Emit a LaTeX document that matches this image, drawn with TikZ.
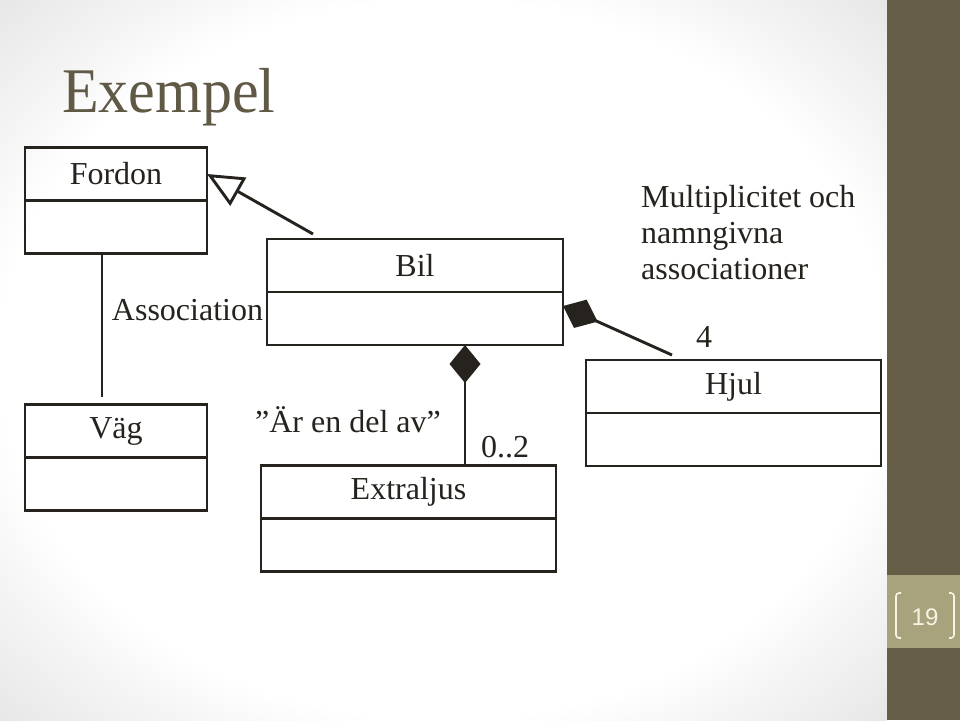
\documentclass[tikz,border=0pt]{standalone}
\usepackage{fontspec}
\setmainfont{Liberation Serif}
\setsansfont{Liberation Sans}
\usetikzlibrary{arrows.meta,positioning}
\definecolor{linje}{RGB}{38,35,30}
\definecolor{rubrik}{RGB}{95,89,70}
\definecolor{list}{RGB}{103,94,72}
\definecolor{listljus}{RGB}{168,163,125}
\definecolor{siffra}{RGB}{248,244,228}
\pgfdeclareradialshading{vinjett}{\pgfpoint{0bp}{0bp}}{color(0bp)=(white); color(25bp)=(white); color(29bp)=(black!4); color(36bp)=(black!10); color(50bp)=(black!10)}

\begin{document}
\begin{tikzpicture}[x=1pt, y=-1pt,
  every node/.style={font=\fontsize{32}{36}\selectfont, text=linje},
  klass/.style={draw=linje, line width=2.9pt, outer sep=0pt, inner sep=0pt, minimum height=53pt},
  assoc/.style={draw=linje, line width=2.9pt},
  arv/.style={draw=linje, line width=2.9pt, -{Triangle[length=36pt, width=32pt, fill=white]}},
  komp/.style={draw=linje, line width=2.9pt, {Diamond[length=38pt, width=31pt]}-},
  klammer/.style={draw=siffra, line width=1.6pt, rounded corners=3pt}]
\useasboundingbox (0,0) rectangle (960,720);
% bakgrund
\shade[shading=vinjett] (0,0) rectangle (887,720);
\fill[list] (887,0) rectangle (960,720);
\fill[listljus] (887,575) rectangle (960,648);
\node[anchor=base west, inner sep=0pt, font=\fontsize{60}{60}\selectfont, text=rubrik, yscale=1.06] (titel) at (62,112) {Exempel};
% klasser
\node[klass, minimum width=182pt] (fordon) at (116,174) {Fordon};
\node[klass, minimum width=182pt, below=0pt of fordon] (fordonDel) {};
\node[klass, minimum width=182pt] (vag) at (116,431) {Väg};
\node[klass, minimum width=182pt, below=0pt of vag] (vagDel) {};
\node[klass, minimum width=296pt] (bil) at (415,265.5) {Bil};
\node[klass, minimum width=296pt, below=0pt of bil] (bilDel) {};
\node[klass, minimum width=295pt] (extraljus) at (408.5,492) {Extraljus};
\node[klass, minimum width=295pt, below=0pt of extraljus] (extraljusDel) {};
\node[klass, minimum width=295pt] (hjul) at (733.5,386.5) {Hjul};
\node[klass, minimum width=295pt, below=0pt of hjul] (hjulDel) {};
% texter
\node[anchor=base] (assocText) at (187.5,320) {Association};
\node[anchor=base] (delav) at (348,432) {”Är en del av”};
\node[anchor=base] (noll) at (505,457) {0..2};
\node[anchor=base] (fyra) at (704,347) {4};
\node[anchor=north west, inner sep=0pt, align=left] (multi) at (641,185) {Multiplicitet och\\namngivna\\associationer};
% kopplingar
\coordinate (delX) at (465,0);
\draw[assoc, shorten >=8pt] ([xshift=-14pt]fordonDel.south) -- ([xshift=-14pt]vag.north);
\draw[arv] ([xshift=46pt, yshift=5pt]bil.north west) -- (fordon.east);
\draw[komp] (bilDel.south -| delX) -- (extraljus.north -| delX);
\draw[komp] ([yshift=12.5pt]bilDel.east) -- ([xshift=-61.5pt, yshift=5pt]hjul.north);
% sidnummer
\node[font=\sffamily\fontsize{24}{24}\selectfont, text=siffra] (sidnr) at (925,617) {19};
\draw[klammer] (sidnr.center) ++(-24,-24) -- ++(-5,0) -- ++(0,45) -- ++(5,0);
\draw[klammer] (sidnr.center) ++(24,-24) -- ++(5,0) -- ++(0,45) -- ++(-5,0);
\end{tikzpicture}
\end{document}
